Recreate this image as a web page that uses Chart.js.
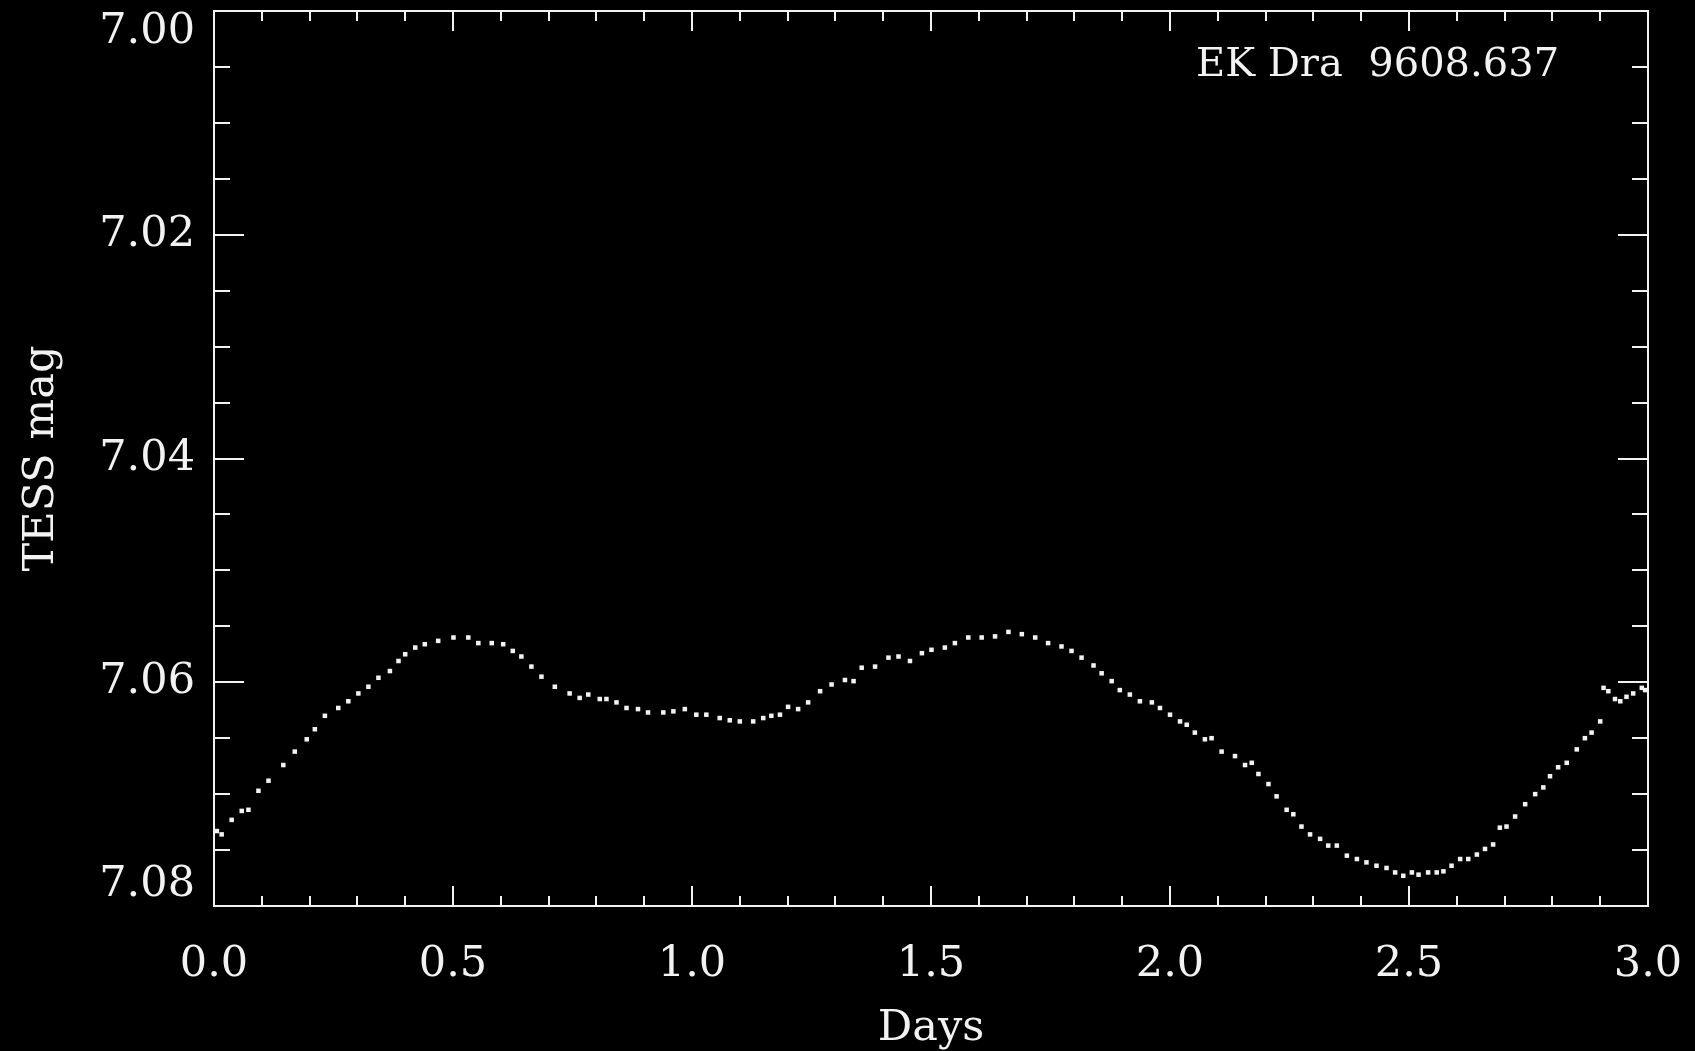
<!DOCTYPE html>
<html>
<head>
<meta charset="utf-8">
<title>EK Dra - TESS light curve</title>
<script src="https://cdn.jsdelivr.net/npm/chart.js@4.4.1/dist/chart.umd.min.js"></script>
<style>
  html, body { margin: 0; padding: 0; background: #000; }
  canvas { display: block; }
</style>
</head>
<body>
<canvas id="lightCurve" width="1695" height="1051"></canvas>
<script>
// days from start of the segment
var days = [
  0.006, 0.016, 0.037, 0.058, 0.072, 0.093, 0.114, 0.145, 0.169, 0.194,
  0.211, 0.232, 0.260, 0.281, 0.302, 0.323, 0.344, 0.368, 0.386, 0.400,
  0.421, 0.441, 0.469, 0.501, 0.532, 0.553, 0.581, 0.605, 0.625, 0.643,
  0.664, 0.685, 0.713, 0.744, 0.765, 0.783, 0.807, 0.821, 0.842, 0.863,
  0.887, 0.908, 0.940, 0.961, 0.985, 1.009, 1.030, 1.058, 1.079, 1.100,
  1.128, 1.149, 1.166, 1.184, 1.201, 1.222, 1.243, 1.268, 1.292, 1.320,
  1.338, 1.355, 1.383, 1.411, 1.432, 1.456, 1.481, 1.501, 1.529, 1.550,
  1.578, 1.606, 1.634, 1.662, 1.690, 1.718, 1.745, 1.773, 1.794, 1.815,
  1.840, 1.857, 1.878, 1.895, 1.916, 1.937, 1.962, 1.979, 2.000, 2.021,
  2.035, 2.052, 2.073, 2.087, 2.108, 2.136, 2.157, 2.171, 2.185, 2.206,
  2.223, 2.244, 2.258, 2.275, 2.293, 2.314, 2.331, 2.349, 2.370, 2.391,
  2.411, 2.432, 2.453, 2.471, 2.488, 2.506, 2.520, 2.540, 2.558, 2.572,
  2.589, 2.607, 2.624, 2.642, 2.659, 2.676, 2.690, 2.704, 2.722, 2.743,
  2.764, 2.781, 2.795, 2.812, 2.830, 2.851, 2.868, 2.882, 2.900, 2.907,
  2.917, 2.931, 2.942, 2.955, 2.969, 2.987, 2.994
];

// TESS mag at those times
var mags = [
  7.0733, 7.0736, 7.0723, 7.0715, 7.0714, 7.0697, 7.0688, 7.0674, 7.0662, 7.0651,
  7.0642, 7.0630, 7.0623, 7.0617, 7.0610, 7.0604, 7.0596, 7.0590, 7.0581, 7.0575,
  7.0569, 7.0566, 7.0563, 7.0560, 7.0560, 7.0565, 7.0565, 7.0566, 7.0572, 7.0577,
  7.0586, 7.0595, 7.0604, 7.0610, 7.0614, 7.0611, 7.0615, 7.0615, 7.0618, 7.0623,
  7.0624, 7.0627, 7.0627, 7.0626, 7.0624, 7.0629, 7.0629, 7.0632, 7.0634, 7.0635,
  7.0635, 7.0632, 7.0630, 7.0629, 7.0622, 7.0624, 7.0618, 7.0608, 7.0602, 7.0598,
  7.0599, 7.0587, 7.0586, 7.0578, 7.0577, 7.0581, 7.0574, 7.0571, 7.0569, 7.0565,
  7.0560, 7.0560, 7.0559, 7.0555, 7.0557, 7.0560, 7.0565, 7.0568, 7.0572, 7.0578,
  7.0585, 7.0592, 7.0599, 7.0607, 7.0611, 7.0617, 7.0618, 7.0623, 7.0629, 7.0635,
  7.0638, 7.0645, 7.0651, 7.0650, 7.0662, 7.0666, 7.0674, 7.0672, 7.0682, 7.0691,
  7.0702, 7.0714, 7.0718, 7.0729, 7.0736, 7.0740, 7.0746, 7.0746, 7.0755, 7.0758,
  7.0761, 7.0764, 7.0766, 7.0770, 7.0773, 7.0770, 7.0772, 7.0770, 7.0770, 7.0769,
  7.0764, 7.0758, 7.0758, 7.0754, 7.0749, 7.0745, 7.0730, 7.0729, 7.0720, 7.0709,
  7.0700, 7.0694, 7.0684, 7.0676, 7.0672, 7.0660, 7.0650, 7.0645, 7.0635, 7.0605,
  7.0608, 7.0615, 7.0617, 7.0613, 7.0610, 7.0605, 7.0607
];

var xTickLabels = ['0.0', '0.5', '1.0', '1.5', '2.0', '2.5', '3.0'];
var yTickLabels = ['7.00', '7.02', '7.04', '7.06', '7.08'];
var starLabel = 'EK Dra  9608.637';

var xMin = 0, xMax = 3, xMinor = 0.1, xMajor = 0.5;
var yMin = 7.00, yMax = 7.08, yMinor = 0.005, yMajor = 0.02;

var serif = 'DejaVu Serif';
var ink = '#f2f2f2';

function isMajor(v, step) {
    var r = v / step;
    return Math.abs(r - Math.round(r)) < 1e-6;
}

// every minor step gets a tick, labels only on the majors
function stepTicks(min, max, step) {
    var out = [];
    var n = Math.round((max - min) / step);
    for (var i = 0; i <= n; i++) {
        out.push({value: +(min + i * step).toFixed(6)});
    }
    return out;
}

// box round the plot + inward ticks on all four sides
var frame = {
    id: 'frame',
    afterDatasetsDraw: function (chart) {
        var ctx = chart.ctx;
        var a = chart.chartArea;
        var xs = chart.scales.x, ys = chart.scales.y;

        ctx.save();
        ctx.strokeStyle = ink;
        ctx.lineWidth = 2;
        ctx.strokeRect(a.left, a.top, a.right - a.left, a.bottom - a.top);

        ctx.beginPath();
        xs.ticks.forEach(function (t) {
            var px = Math.round(xs.getPixelForValue(t.value));
            var len = isMajor(t.value, xMajor) ? 20 : 10;
            ctx.moveTo(px, a.bottom);
            ctx.lineTo(px, a.bottom - len);
            ctx.moveTo(px, a.top);
            ctx.lineTo(px, a.top + len);
        });
        ys.ticks.forEach(function (t) {
            var py = Math.round(ys.getPixelForValue(t.value));
            var len = isMajor(t.value, yMajor) ? 30 : 16;
            ctx.moveTo(a.left, py);
            ctx.lineTo(a.left + len, py);
            ctx.moveTo(a.right, py);
            ctx.lineTo(a.right - len, py);
        });
        ctx.stroke();

        ctx.fillStyle = ink;
        ctx.font = '40px "' + serif + '"';
        ctx.textAlign = 'left';
        ctx.textBaseline = 'alphabetic';
        ctx.fillText(starLabel, a.right - 452, a.top + 65);
        ctx.restore();
    }
};

var points = days.map(function (d, i) {
    return {x: d, y: mags[i]};
});

var chart = new Chart(document.getElementById('lightCurve'), {
    type: 'scatter',
    data: {
        datasets: [{
            label: 'EK Dra',
            data: points,
            pointStyle: 'rect',
            pointRadius: 3.2,
            borderWidth: 0,
            backgroundColor: ink,
            showLine: false
        }]
    },
    options: {
        responsive: false,
        animation: false,
        devicePixelRatio: 1,
        layout: {padding: {left: 0, top: 11, right: 47, bottom: 0}},
        plugins: {
            legend: {display: false},
            tooltip: {enabled: false}
        },
        scales: {
            x: {
                type: 'linear',
                min: xMin,
                max: xMax,
                grid: {display: false, drawTicks: false, tickLength: 0},
                border: {display: false},
                afterBuildTicks: function (s) {
                    s.ticks = stepTicks(xMin, xMax, xMinor);
                },
                afterFit: function (s) {
                    s.height = 145;
                    s.paddingLeft = 0;
                    s.paddingRight = 0;
                },
                ticks: {
                    autoSkip: false,
                    maxRotation: 0,
                    minRotation: 0,
                    padding: 33,
                    color: ink,
                    font: {family: serif, size: 43},
                    callback: function (v) {
                        var lbl = Number(v).toFixed(1);
                        return isMajor(v, xMajor) && xTickLabels.indexOf(lbl) >= 0 ? lbl : '';
                    }
                },
                title: {
                    display: true,
                    text: 'Days',
                    color: ink,
                    font: {family: serif, size: 43, lineHeight: 1.0},
                    padding: {top: 0, bottom: 1}
                }
            },
            y: {
                type: 'linear',
                reverse: true,
                min: yMin,
                max: yMax,
                grid: {display: false, drawTicks: false, tickLength: 0},
                border: {display: false},
                afterBuildTicks: function (s) {
                    s.ticks = stepTicks(yMin, yMax, yMinor);
                },
                afterFit: function (s) {
                    s.width = 214;
                    s.paddingTop = 0;
                    s.paddingBottom = 0;
                },
                ticks: {
                    autoSkip: false,
                    padding: 19,
                    color: ink,
                    font: {family: serif, size: 43, lineHeight: '42px'},
                    callback: function (v) {
                        if (!isMajor(v, yMajor)) return '';
                        var lbl = Number(v).toFixed(2);
                        if (yTickLabels.indexOf(lbl) < 0) return '';
                        // end labels sit inside the frame, like the original
                        if (Math.abs(v - yMin) < 1e-6) return ['', lbl];
                        if (Math.abs(v - yMax) < 1e-6) return [lbl, ''];
                        return lbl;
                    }
                },
                title: {
                    display: true,
                    text: 'TESS mag',
                    color: ink,
                    font: {family: serif, size: 43},
                    padding: {top: 16, bottom: 0}
                }
            }
        }
    },
    plugins: [frame]
});
</script>
</body>
</html>
